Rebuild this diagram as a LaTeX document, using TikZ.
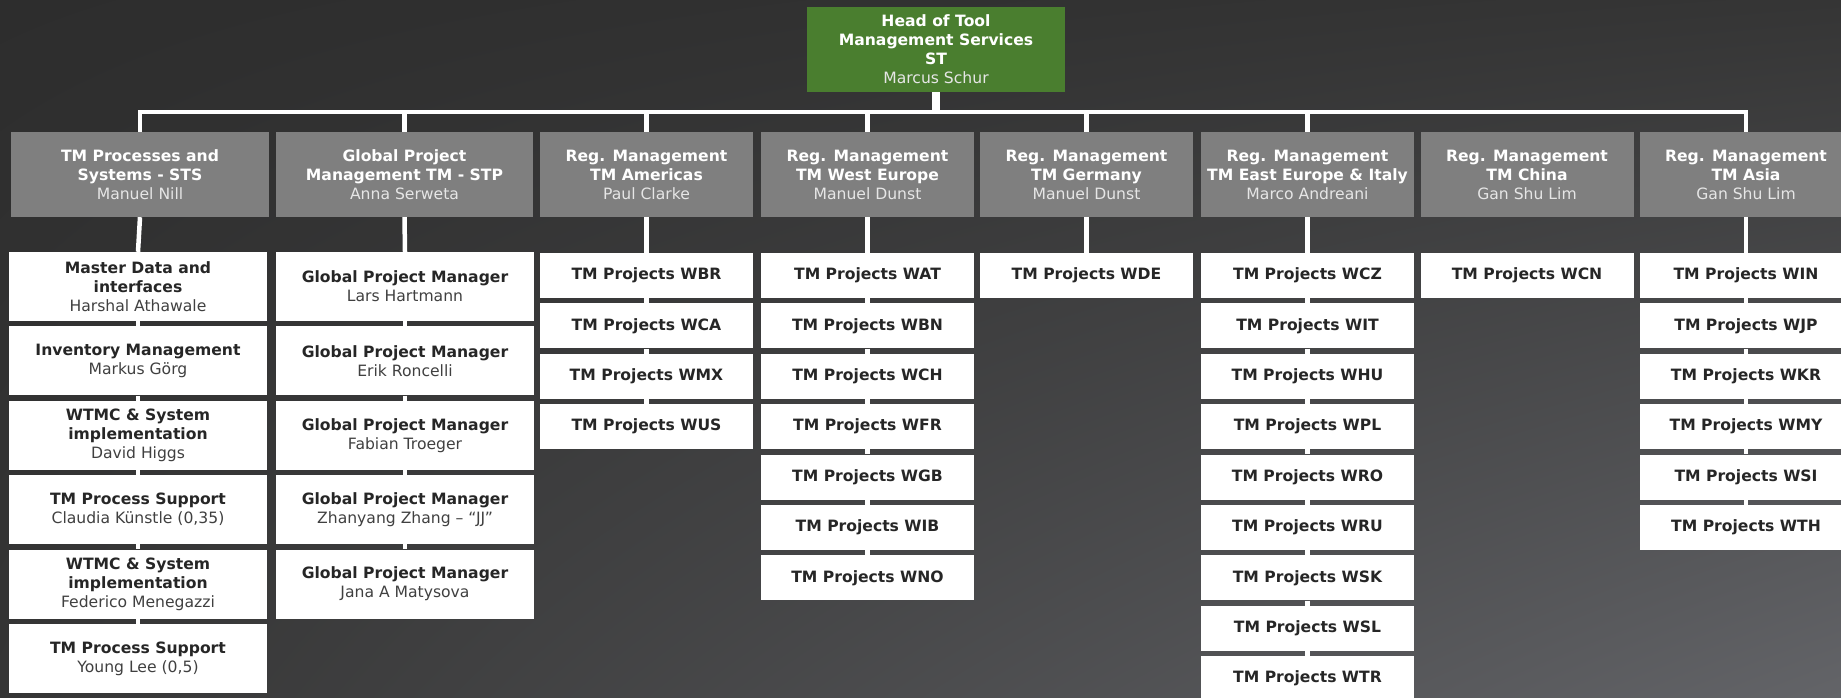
\documentclass[tikz,border=0pt]{standalone}
\usepackage{fontspec}
\usetikzlibrary{shadings}
\setmainfont{DejaVu Sans}
\definecolor{bgdark}{HTML}{2D2D2D}
\definecolor{bgmid}{HTML}{353535}
\definecolor{bglight}{HTML}{636468}
\definecolor{headgreen}{HTML}{4A7E2F}
\definecolor{unitgray}{HTML}{7F7F7F}
\definecolor{boxtext}{HTML}{262626}
\definecolor{nametext}{HTML}{404040}
\definecolor{namelight}{HTML}{E6E6E6}
\newcommand{\lname}[1]{{\mdseries\color{namelight}#1}}
\newcommand{\dname}[1]{{\mdseries\color{nametext}#1}}

\begin{document}
\begin{tikzpicture}[x=1pt, y=-1pt,
	box/.style={rectangle, inner sep=0pt, align=center, font=\fontsize{15.6}{19}\selectfont\bfseries},
	headbox/.style={box, fill=headgreen, text=white, minimum width=258pt, minimum height=85pt},
	unitbox/.style={box, fill=unitgray, text=white, minimum width=213pt, minimum height=85pt},
	teambox/.style={box, fill=white, text=boxtext, minimum width=258pt, minimum height=69pt},
	projbox/.style={box, fill=white, text=boxtext, minimum width=213pt, minimum height=45pt},
	link/.style={draw=white, line width=4.5pt}]
	\useasboundingbox (0,0) rectangle (1841,698);
	\clip (0,0) rectangle (1841,698);
	\shade[upper left=bgdark, upper right=bgmid, lower left=bgmid, lower right=bglight] (0,0) rectangle (1841,698);

	\node[headbox] (st) at (936,49.5) {Head of Tool\\Management Services\\ST\\\lname{Marcus Schur}};
	\node[unitbox, minimum width=258pt, alias=sts-0] (sts) at (140,174.5) {TM Processes and\\Systems - STS\\\lname{Manuel Nill}};
	\node[unitbox, minimum width=257pt, alias=stp-0] (stp) at (404.5,174.5) {Global Project\\Management TM - STP\\\lname{Anna Serweta}};
	\node[unitbox, alias=ame-0] (ame) at (646.5,174.5) {Reg. Management\\TM Americas\\\lname{Paul Clarke}};
	\node[unitbox, alias=weu-0] (weu) at (867.5,174.5) {Reg. Management\\TM West Europe\\\lname{Manuel Dunst}};
	\node[unitbox, alias=ger-0] (ger) at (1086.5,174.5) {Reg. Management\\TM Germany\\\lname{Manuel Dunst}};
	\node[unitbox, alias=eeu-0] (eeu) at (1307.5,174.5) {Reg. Management\\TM East Europe \& Italy\\\lname{Marco Andreani}};
	\node[unitbox] (chn) at (1527,174.5) {Reg. Management\\TM China\\\lname{Gan Shu Lim}};
	\node[unitbox, alias=asi-0] (asi) at (1746,174.5) {Reg. Management\\TM Asia\\\lname{Gan Shu Lim}};

	\coordinate (bus) at (0,112);
	\draw[link, line width=8pt] (st.south) -- (st.south |- bus);
	\draw[link] (sts.north) -- (sts.north |- bus) -- (asi.north |- bus) -- (asi.north);
	\foreach \col in {stp,ame,weu,ger,eeu} {
		\draw[link] (\col.north |- bus) -- (\col.north);
	}

	\foreach \role/\pers [count=\i, evaluate=\i as \j using int(\i-1)] in {{Master Data and\\interfaces}/Harshal Athawale, Inventory Management/{Markus Görg}, {WTMC \& System\\implementation}/David Higgs, TM Process Support/{Claudia Künstle (0,35)}, {WTMC \& System\\implementation}/Federico Menegazzi, TM Process Support/{Young Lee (0,5)}} {
		\node[teambox] (sts-\i) at (138,{286.5+74.4*(\i-1)}) {\role\\\dname{\pers}};
		\draw[link] (sts-\j.south) -- (sts-\i.north);
	}

	\foreach \pers [count=\i, evaluate=\i as \j using int(\i-1)] in {Lars Hartmann, Erik Roncelli, Fabian Troeger, {Zhanyang Zhang – “JJ”}, Jana A Matysova} {
		\node[teambox] (stp-\i) at (405,{286.5+74.4*(\i-1)}) {Global Project Manager\\\dname{\pers}};
		\draw[link] (stp-\j.south) -- (stp-\i.north);
	}

	\foreach \col/\x/\codes in {ame/646.5/{WBR,WCA,WMX,WUS}, weu/867.5/{WAT,WBN,WCH,WFR,WGB,WIB,WNO}, ger/1086.5/{WDE}, eeu/1307.5/{WCZ,WIT,WHU,WPL,WRO,WRU,WSK,WSL,WTR}, asi/1746/{WIN,WJP,WKR,WMY,WSI,WTH}} {
		\foreach \code [count=\i, evaluate=\i as \j using int(\i-1)] in \codes {
			\node[projbox] (\col-\i) at (\x,{275.5+50.4*(\i-1)}) {TM Projects \code};
			\draw[link] (\col-\j.south) -- (\col-\i.north);
		}
	}
	\node[projbox] (chn-1) at (1527,275.5) {TM Projects WCN};
\end{tikzpicture}
\end{document}
